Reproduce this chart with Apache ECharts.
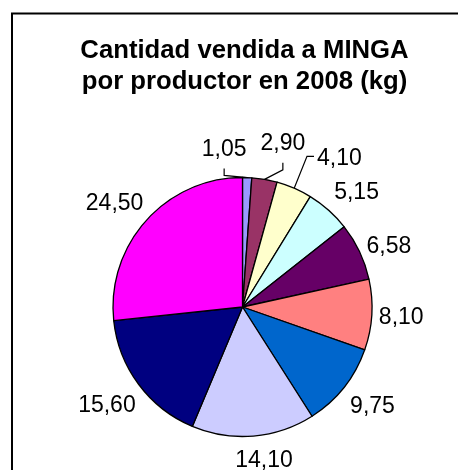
<!DOCTYPE html>
<html>
<head>
<meta charset="utf-8">
<script src="https://cdn.jsdelivr.net/npm/echarts@6/dist/echarts.min.js"></script>
<style>
  html, body { margin: 0; padding: 0; background: #fff; }
  #chart { width: 458px; height: 470px; }
</style>
</head>
<body>
<div id="chart"></div>
<script>
// Kilos sold to MINGA by each producer in 2008
const productores = ['Productor 1', 'Productor 2', 'Productor 3', 'Productor 4', 'Productor 5',
                     'Productor 6', 'Productor 7', 'Productor 8', 'Productor 9', 'Productor 10'];
const ventasKg = [1.05, 2.90, 4.10, 5.15, 6.58, 8.10, 9.75, 14.10, 15.60, 24.50];
const colores = ['#9999FF', '#993366', '#FFFFCC', '#CCFFFF', '#660066',
                 '#FF8080', '#0066CC', '#CCCCFF', '#000080', '#FF00FF'];
const titulo = 'Cantidad vendida a MINGA\npor productor en 2008 (kg)';

// Label placement: extra gap beyond the rim and sideways shift (px)
const labelGap   = [15, 23, 26, 8.5, 3.5, 6.6, 9.3, 11.6, 8, 5.4];
const labelShift = [-24, 12, 29.5, 9, 8, 1.6, -3, -8.4, 2, -9];
const withLeader = [true, true, true, false, false, false, false, false, false, false];

const FONT = '"Liberation Sans", Arial, Helvetica, sans-serif';
const CX = 242.5, CY = 307, R = 129.5;

const total = ventasKg.reduce((a, b) => a + b, 0);
const before = [];
ventasKg.reduce((acc, v, i) => { before[i] = acc; return acc + v; }, 0);

const chart = echarts.init(document.getElementById('chart'), null, { renderer: 'canvas' });

chart.setOption({
  backgroundColor: '#fff',
  animation: false,
  graphic: [
    {
      type: 'rect',
      shape: { x: 12, y: 13.5, width: 600, height: 600 },
      style: { fill: 'none', stroke: '#000', lineWidth: 2 },
      silent: true
    },
    {
      type: 'text',
      x: 244.5,
      y: 35,
      style: {
        text: titulo,
        font: 'bold 25.7px ' + FONT,
        textAlign: 'center',
        textVerticalAlign: 'top',
        lineHeight: 31,
        fill: '#000'
      },
      silent: true
    }
  ],
  series: [{
    type: 'pie',
    center: [CX, CY],
    radius: R,
    startAngle: 90,
    clockwise: true,
    avoidLabelOverlap: false,
    silent: true,
    emphasis: { disabled: true },
    itemStyle: { borderColor: '#000', borderWidth: 1.3 },
    label: {
      show: true,
      position: 'outside',
      color: '#000',
      fontSize: 23,
      fontFamily: FONT,
      formatter: p => p.value.toFixed(2).replace('.', ',')
    },
    labelLine: { show: false, lineStyle: { color: '#000', width: 1.2 } },
    labelLayout: function (params) {
      const i = params.dataIndex;
      const theta = 2 * Math.PI * (before[i] + ventasKg[i] / 2) / total;
      const dx = Math.sin(theta), dy = -Math.cos(theta);
      const tx = Math.cos(theta), ty = Math.sin(theta);
      const w = params.labelRect.width, h = params.labelRect.height;
      const ext = Math.abs(dx) * w / 2 + Math.abs(dy) * h / 2;
      const d = R + labelGap[i] + ext;
      const x = CX + dx * d + tx * labelShift[i];
      const y = CY + dy * d + ty * labelShift[i];
      const out = { x: x, y: y, align: 'center', verticalAlign: 'middle' };
      if (withLeader[i]) {
        const rim = [CX + dx * R, CY + dy * R];
        if (Math.abs(dy) > 0.95) {
          out.labelLinePoints = [rim, [x, y + 26], [x, y + 19]];
        } else {
          const left = x - w / 2;
          out.labelLinePoints = [rim, [left - 10, y - 2], [left - 3, y - 2]];
        }
      }
      return out;
    },
    data: ventasKg.map((v, i) => ({
      name: productores[i],
      value: v,
      itemStyle: { color: colores[i] },
      labelLine: { show: withLeader[i] }
    }))
  }]
});
</script>
</body>
</html>
